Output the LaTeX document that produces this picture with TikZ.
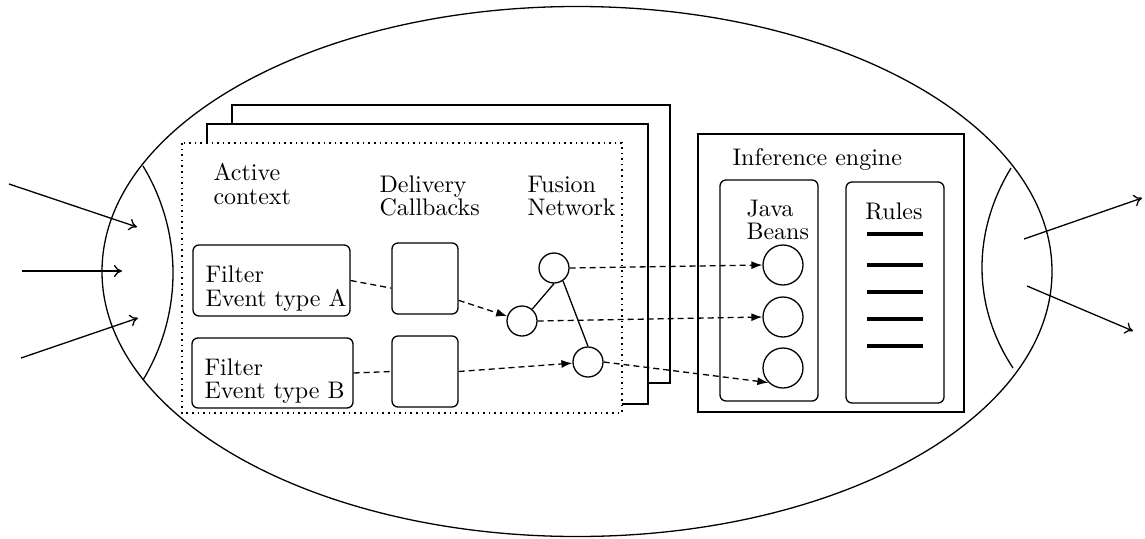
\documentclass[tikz,border=0pt]{standalone}
\usetikzlibrary{arrows.meta}
\begin{document}
\begin{tikzpicture}[x=1pt,y=-1pt,line width=1.3pt,
  txt/.style={font=\fontsize{10}{9.8}\selectfont, scale=2.4, transform shape, inner sep=0pt, align=left},
  rbox/.style={draw, rounded corners=6pt, inner sep=0pt},
  pebble/.style={draw, circle, inner sep=0pt, minimum size=30pt},
  bean/.style={draw, circle, inner sep=0pt, minimum size=40pt},
  flow/.style={dash pattern=on 6pt off 4pt},
  flowtip/.style={flow, -{Latex[length=11pt,width=8pt]}},
  ioarrow/.style={-{Computer Modern Rightarrow[length=8pt,width=12pt]}},
  rule/.style={line width=3.2pt}]
\useasboundingbox (0,0) rectangle (1145,538);

% outer component
\draw (577,271.5) ellipse [x radius=475, y radius=265];

% input and output lenses
\draw (143,166) .. controls (183,232) and (183,314) .. (143,380);
\draw (1011,168) .. controls (972,232) and (972,306) .. (1013,368);

% incoming and outgoing events
\coordinate (in1s) at (9,184);   \coordinate (in1e) at (137,227);
\coordinate (in2s) at (22,271);  \coordinate (in2e) at (122,271);
\coordinate (in3s) at (21,358);  \coordinate (in3e) at (138,318);
\coordinate (out1s) at (1024,239); \coordinate (out1e) at (1142,198);
\coordinate (out2s) at (1027,286); \coordinate (out2e) at (1133,331);
\draw[ioarrow] (in1s) -- (in1e);
\draw[ioarrow] (in2s) -- (in2e);
\draw[ioarrow] (in3s) -- (in3e);
\draw[ioarrow] (out1s) -- (out1e);
\draw[ioarrow] (out2s) -- (out2e);

% stack of contexts
\draw[fill=white] (232,105) rectangle (670,383);
\draw[fill=white] (207,124) rectangle (648,404);
\draw[fill=white, dash pattern=on 1.6pt off 4pt] (182,143) rectangle (622,413);

% column headings
\node[txt, anchor=west] (hac) at (212,184) {Active\\context};
\node[txt, anchor=west] (hdc) at (378,196) {Delivery\\Callbacks};
\node[txt, anchor=west] (hfn) at (526,196) {Fusion\\Network};

% filters
\node[rbox, minimum width=157pt, minimum height=71pt] (fa) at (271.5,280.5) {};
\node[txt, anchor=west] (fat) at (204,288.5) {Filter\\Event type A};
\node[rbox, minimum width=161pt, minimum height=70pt] (fb) at (272.5,373) {};
\node[txt, anchor=west] (fbt) at (203,381) {Filter\\Event type B};

% delivery callbacks
\node[rbox, minimum width=66pt, minimum height=71pt] (d1) at (425,278.5) {};
\node[rbox, minimum width=66pt, minimum height=71pt] (d2) at (425,371.5) {};

% fusion network
\node[pebble] (c1) at (554,268) {};
\node[pebble] (c2) at (522,321) {};
\node[pebble] (c3) at (588,362) {};
\draw (c2) -- (c1.south);
\draw (c1.-55) -- (c3.north);

% inference engine
\draw (698,134) rectangle (964,412);
\node[txt, anchor=base west] (hie) at (731,165) {Inference engine};
\node[rbox, minimum width=98pt, minimum height=221pt] (jb) at (769,290.5) {};
\node[txt, anchor=west] (hjb) at (745,220) {Java\\Beans};
\node[bean] (b1) at (783,265) {};
\node[bean] (b2) at (783,317) {};
\node[bean] (b3) at (783,368) {};
\node[rbox, minimum width=98pt, minimum height=221pt] (rl) at (895,292.5) {};
\node[txt, anchor=base] (hrl) at (894,219) {Rules};
\foreach \yy in {234,265,292,319,346}
  \draw[rule] (867,\yy) -- (923,\yy);

% event flow
\draw[flow] (fa.east) -- (d1.196);
\draw[flowtip] (d1.327) -- (c2);
\draw[flow] (fb.east) -- (d2.west);
\draw[flowtip] (d2.east) -- (c3);
\draw[flowtip] (c1.east) -- (b1.west);
\draw[flowtip] (c2.east) -- (b2.west);
\draw[flowtip] (c3.east) -- (b3.south west);
\end{tikzpicture}
\end{document}
